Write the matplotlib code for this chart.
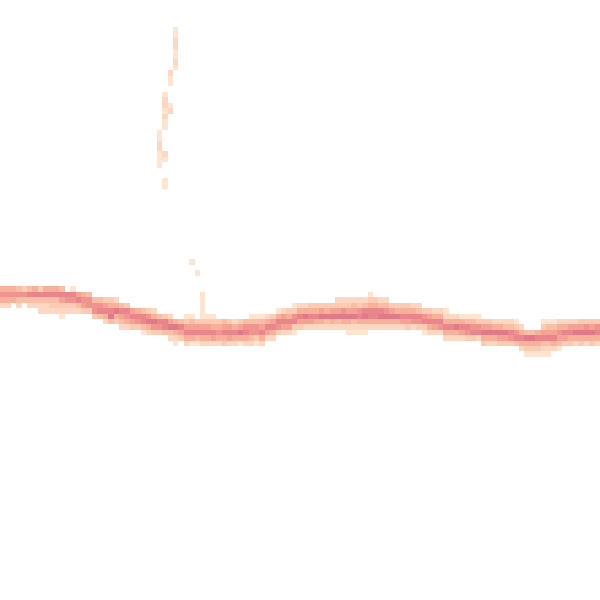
import numpy as np
import matplotlib
matplotlib.use("Agg")
import matplotlib.pyplot as plt
from matplotlib.colors import ListedColormap, BoundaryNorm

N_BINS = 111

# Density band: for each column (0..110), the top row and the levels going down (0 = empty)
band_top = [
    53, 53, 53, 53, 53, 53, 53, 53, 53, 53, 53, 53, 53, 53, 53, 53, 53,
    55, 55, 55, 55, 55, 56, 56, 57, 57, 57, 57, 57, 58, 58, 58, 59, 59,
    58, 58, 59, 54, 58, 58, 58, 58, 58, 58, 58, 58, 58, 58, 58, 58,
    58, 57, 57, 57, 56, 56, 56, 56, 56, 56, 56, 56, 55, 55, 55, 55, 55,
    55, 54, 55, 55, 55, 56, 56, 56, 56, 56, 56, 57, 57, 57, 57, 57,
    58, 58, 58, 58, 58, 58, 59, 59, 59, 59, 59, 59, 59, 60, 61, 61, 61,
    59, 59, 59, 59, 59, 59, 59, 59, 59, 59, 59,
]
band_levels = [
    "5752", "5752", "575", "4742", "374", "4842", "5842", "38422", "58422",
    "58432", "58432", "486321", "08732", "18732", "06842", "05763", "04773",
    "4773", "4784", "36852", "35894", "25953", "48642", "38752", "6863",
    "5873", "48841", "37952", "25973", "4873", "3884", "26942", "59521",
    "4863", "136852", "146851", "36841", "1111136852", "136852", "135862",
    "035752", "046853", "036862", "025852", "036951", "047852", "147742",
    "147731", "146852", "25862",
    "36852", "15873", "26862", "35862", "137831", "25863", "25962", "35862",
    "35852", "36952", "35942", "36952", "236942", "237952", "2369521",
    "2469421", "2378521",
    "2489521", "1358852", "358852", "248952", "247952", "36952", "35952",
    "35862", "35863", "25872", "24873", "37831", "36852", "25862", "25872",
    "125852",
    "25852", "25952", "15862", "14873", "14783", "13782", "36953", "36952",
    "25952", "25963", "24963", "24873", "13784", "25852", "49531", "49531",
    "58531",
    "1368421", "1468421", "146852", "257641", "25863", "26853", "26952",
    "36953", "37952", "36953", "37852",
]

# Sparse cells above the band (the thin vertical streak and outliers)
extra_cols = [32, 32, 32, 32, 32, 32, 32, 32,
              31, 31, 31,
              30, 30, 30, 30, 30, 30, 30,
              31, 31,
              29, 29, 29, 29, 29, 29, 29,
              30, 30,
              30, 30,
              35, 36]
extra_rows = [5, 6, 7, 8, 9, 10, 11, 12,
              13, 14, 15,
              17, 18, 19, 20, 21, 22, 23,
              19, 20,
              24, 25, 26, 27, 28, 29, 30,
              28, 29,
              33, 34,
              48, 50]
extra_levels = [1, 1, 2, 2, 1, 1, 2, 1,
                2, 1, 1,
                1, 2, 2, 1, 2, 1, 1,
                1, 2,
                1, 1, 2, 2, 1, 1, 1,
                2, 1,
                1, 1,
                1, 1]

level_colors = ["#fde5d2", "#fcd8c2", "#fbcbb3", "#f9bea6", "#f7b09a",
                "#f4a293", "#ef948f", "#e8868b", "#e07a88"]

grid = np.full((N_BINS, N_BINS), np.nan)
for c, (top, levels) in enumerate(zip(band_top, band_levels)):
    for i, ch in enumerate(levels):
        v = int(ch)
        if v > 0:
            grid[top + i, c] = v
for c, r, v in zip(extra_cols, extra_rows, extra_levels):
    grid[r, c] = v

cmap = ListedColormap(level_colors)
norm = BoundaryNorm(np.arange(0.5, 10.5, 1.0), cmap.N)

fig = plt.figure(figsize=(6, 6), dpi=100)
ax = fig.add_axes([0, 0, 1, 1])
edges = np.arange(N_BINS + 1)
ax.pcolormesh(edges, edges, np.ma.masked_invalid(grid), cmap=cmap, norm=norm,
              edgecolors="none", antialiased=False)
ax.set_xlim(0, N_BINS)
ax.set_ylim(N_BINS, 0)
ax.axis("off")
fig.savefig("out.png", dpi=100, facecolor="white")
